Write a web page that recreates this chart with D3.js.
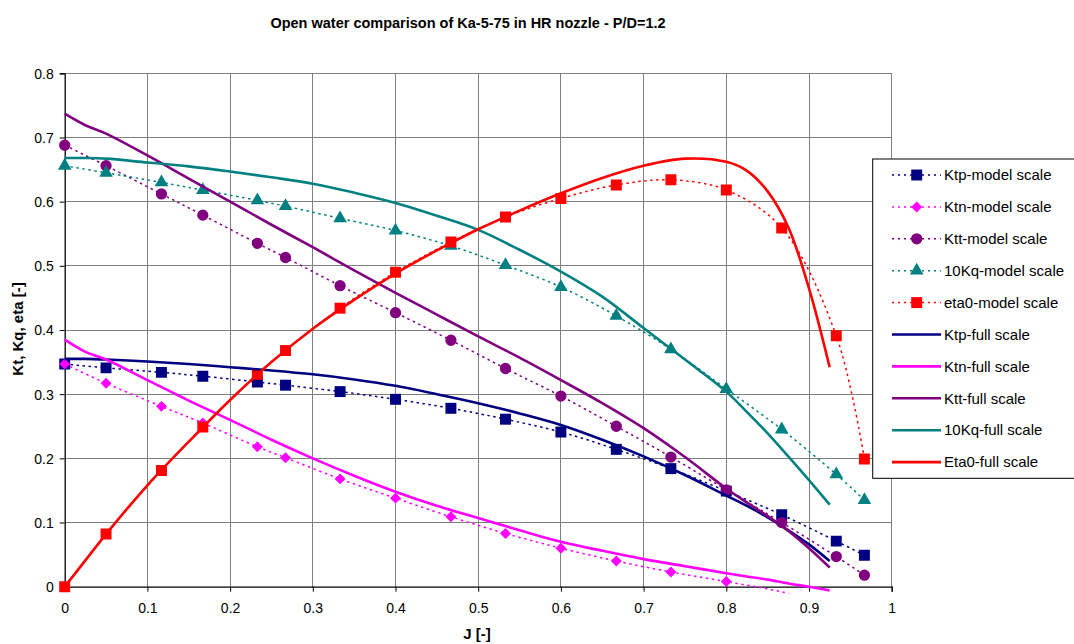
<!DOCTYPE html>
<html>
<head>
<meta charset="utf-8">
<script src="https://cdn.jsdelivr.net/npm/d3@7"></script>
<style>
  html, body { margin: 0; padding: 0; background: #fff; }
  svg { display: block; font-family: Arial, "Liberation Sans", sans-serif; }
</style>
</head>
<body>
<svg id="chart" width="1074" height="644"></svg>
<script>
// Advance coefficients J of the model-scale test points
const jModel = [0, 0.05, 0.117, 0.167, 0.233, 0.267, 0.333, 0.4, 0.467, 0.533, 0.6, 0.667, 0.733, 0.8, 0.867, 0.933, 0.967];
const ktpModel = [0.347, 0.341, 0.334, 0.328, 0.319, 0.314, 0.304, 0.292, 0.278, 0.261, 0.241, 0.214, 0.184, 0.149, 0.112, 0.071, 0.049];
const ktnModel = [0.347, 0.317, 0.281, 0.255, 0.218, 0.201, 0.168, 0.138, 0.109, 0.083, 0.060, 0.040, 0.023, 0.008, -0.008, -0.030];
const kttModel = [0.688, 0.656, 0.612, 0.579, 0.535, 0.513, 0.469, 0.427, 0.384, 0.340, 0.297, 0.250, 0.202, 0.151, 0.100, 0.047, 0.018];
const kqModel  = [0.656, 0.645, 0.630, 0.618, 0.602, 0.593, 0.574, 0.555, 0.531, 0.501, 0.467, 0.422, 0.370, 0.308, 0.245, 0.175, 0.135];
const etaModel = [0, 0.082, 0.181, 0.249, 0.331, 0.368, 0.434, 0.490, 0.537, 0.576, 0.605, 0.626, 0.634, 0.618, 0.559, 0.391, 0.199];

// Full-scale prediction curves
const jFull = [0, 0.025, 0.05, 0.1, 0.15, 0.2, 0.25, 0.3, 0.35, 0.4, 0.45, 0.5, 0.55, 0.6, 0.65, 0.7, 0.75, 0.8, 0.825, 0.85, 0.875, 0.9, 0.925];
const ktpFull = [0.355, 0.355, 0.354, 0.351, 0.347, 0.342, 0.337, 0.331, 0.323, 0.313, 0.300, 0.286, 0.270, 0.252, 0.229, 0.203, 0.174, 0.142, 0.126, 0.108, 0.088, 0.066, 0.040];
const ktnFull = [0.385, 0.366, 0.354, 0.322, 0.290, 0.260, 0.229, 0.200, 0.173, 0.148, 0.126, 0.107, 0.088, 0.070, 0.056, 0.043, 0.032, 0.021, 0.016, 0.011, 0.005, 0.000, -0.006];
const kttFull = [0.737, 0.719, 0.706, 0.672, 0.636, 0.600, 0.564, 0.529, 0.493, 0.458, 0.424, 0.390, 0.357, 0.322, 0.286, 0.247, 0.202, 0.153, 0.131, 0.110, 0.087, 0.060, 0.030];
const kqFull  = [0.668, 0.668, 0.667, 0.661, 0.655, 0.647, 0.638, 0.628, 0.614, 0.598, 0.578, 0.556, 0.525, 0.491, 0.452, 0.403, 0.354, 0.304, 0.272, 0.239, 0.203, 0.166, 0.128];
const etaFull = [0, 0.041, 0.082, 0.158, 0.226, 0.291, 0.350, 0.402, 0.447, 0.488, 0.524, 0.557, 0.586, 0.613, 0.637, 0.656, 0.667, 0.662, 0.648, 0.616, 0.560, 0.465, 0.342];

const xTicks = [0, 0.1, 0.2, 0.3, 0.4, 0.5, 0.6, 0.7, 0.8, 0.9, 1];
const yTicks = [0, 0.1, 0.2, 0.3, 0.4, 0.5, 0.6, 0.7, 0.8];

const titleText = "Open water comparison of Ka-5-75 in HR nozzle - P/D=1.2";
const xTitle = "J [-]";
const yTitle = "Kt, Kq, eta [-]";

const modelSeries = [
  { name: "Ktp-model scale", values: ktpModel, color: "#000080", symbol: "square" },
  { name: "Ktn-model scale", values: ktnModel, color: "#FF00FF", symbol: "diamond" },
  { name: "Ktt-model scale", values: kttModel, color: "#800080", symbol: "circle" },
  { name: "10Kq-model scale", values: kqModel, color: "#008080", symbol: "triangle" },
  { name: "eta0-model scale", values: etaModel, color: "#FF0000", symbol: "square" }
];
const fullSeries = [
  { name: "Ktp-full scale", values: ktpFull, color: "#000080" },
  { name: "Ktn-full scale", values: ktnFull, color: "#FF00FF" },
  { name: "Ktt-full scale", values: kttFull, color: "#800080" },
  { name: "10Kq-full scale", values: kqFull, color: "#008080" },
  { name: "Eta0-full scale", values: etaFull, color: "#FF0000" }
];

const svg = d3.select("#chart");
const W = 1074, H = 644;
const plot = { left: 64.7, right: 891.7, top: 73.3, bottom: 586.7 };

svg.append("rect").attr("width", W).attr("height", H).attr("fill", "#fff");

const x = d3.scaleLinear().domain([0, 1]).range([plot.left, plot.right]);
const y = d3.scaleLinear().domain([0, 0.8]).range([plot.bottom, plot.top]);

// grid
const grid = svg.append("g").attr("stroke", "#808080").attr("stroke-width", 1).attr("shape-rendering", "crispEdges");
grid.selectAll("line.gx").data(xTicks.slice(1)).join("line")
  .attr("x1", d => x(d)).attr("x2", d => x(d)).attr("y1", plot.top).attr("y2", plot.bottom);
grid.selectAll("line.gy").data(yTicks.slice(1)).join("line")
  .attr("y1", d => y(d)).attr("y2", d => y(d)).attr("x1", plot.left).attr("x2", plot.right);

// axes
const xAxis = d3.axisBottom(x).tickValues(xTicks).tickSize(5).tickFormat(d3.format("~g"));
const yAxis = d3.axisLeft(y).tickValues(yTicks).tickSize(5).tickFormat(d3.format("~g"));
const gx = svg.append("g").attr("transform", `translate(0,${plot.bottom})`).call(xAxis);
const gy = svg.append("g").attr("transform", `translate(${plot.left},0)`).call(yAxis);
[gx, gy].forEach(g => {
  g.select(".domain").attr("stroke", "#000").attr("stroke-width", 1.3);
  g.selectAll(".tick line").attr("stroke", "#000");
  g.selectAll(".tick text").attr("fill", "#000").attr("font-size", 14)
    .attr("font-family", "Arial, 'Liberation Sans', sans-serif");
});
gx.selectAll(".tick text").attr("dy", null).attr("y", 26);
gy.selectAll(".tick text").attr("x", -11).attr("dy", "0.35em");

// titles
svg.append("text").attr("x", 468).attr("y", 28).attr("text-anchor", "middle")
  .attr("font-weight", "bold").attr("font-size", 14.5).text(titleText);
svg.append("text").attr("x", 477).attr("y", 639).attr("text-anchor", "middle")
  .attr("font-weight", "bold").attr("font-size", 15).text(xTitle);
svg.append("text").attr("transform", `translate(22.5,329) rotate(-90)`)
  .attr("text-anchor", "middle").attr("font-weight", "bold").attr("font-size", 15).text(yTitle);

// clip so curves dipping under zero stop just below the axis
svg.append("clipPath").attr("id", "plotClip").append("rect")
  .attr("x", plot.left - 10).attr("y", plot.top - 10)
  .attr("width", plot.right - plot.left + 20).attr("height", plot.bottom - plot.top + 16.5);

const symbols = {
  square: d3.symbol().type(d3.symbolSquare).size(120),
  diamond: d3.symbol().type(d3.symbolSquare).size(60),
  circle: d3.symbol().type(d3.symbolCircle).size(100),
  triangle: d3.symbol().type(d3.symbolTriangle).size(80)
};
const symRotate = s => (s === "diamond" ? " rotate(45)" : "");

const lineGen = d3.line().x(d => x(d[0])).y(d => y(d[1])).curve(d3.curveCatmullRom.alpha(0.5));
const layer = svg.append("g").attr("clip-path", "url(#plotClip)");

// model-scale series: dotted lines with markers
modelSeries.forEach(s => {
  const pts = s.values.map((v, i) => [jModel[i], v]);
  layer.append("path").attr("d", lineGen(pts)).attr("fill", "none")
    .attr("stroke", s.color).attr("stroke-width", 1.5).attr("stroke-dasharray", "2.5,3.5");
  layer.selectAll(null).data(pts.filter(p => p[1] >= 0)).join("path")
    .attr("transform", p => `translate(${x(p[0])},${y(p[1])})${symRotate(s.symbol)}`)
    .attr("d", symbols[s.symbol]).attr("fill", s.color);
});

// full-scale predictions: solid lines
fullSeries.forEach(s => {
  const pts = s.values.map((v, i) => [jFull[i], v]);
  layer.append("path").attr("d", lineGen(pts)).attr("fill", "none")
    .attr("stroke", s.color).attr("stroke-width", 2.6).attr("stroke-linejoin", "round");
});

// legend
const lg = svg.append("g");
lg.append("rect").attr("x", 872.7).attr("y", 159).attr("width", 260).attr("height", 319.3)
  .attr("fill", "#fff").attr("stroke", "#000").attr("stroke-width", 1);
const rowY = i => 175 + i * 31.9;
modelSeries.concat(fullSeries).forEach((s, i) => {
  const yy = rowY(i);
  const line = lg.append("line").attr("x1", 892).attr("x2", 941).attr("y1", yy).attr("y2", yy)
    .attr("stroke", s.color);
  if (s.symbol) {
    line.attr("stroke-width", 1.5).attr("stroke-dasharray", "2,4");
    lg.append("path").attr("transform", `translate(916.7,${yy})${symRotate(s.symbol)}`)
      .attr("d", symbols[s.symbol]).attr("fill", s.color);
  } else {
    line.attr("stroke-width", 2.6);
  }
  lg.append("text").attr("x", 944).attr("y", yy).attr("dy", "0.35em")
    .attr("font-size", 15).attr("fill", "#000").text(s.name);
});
</script>
</body>
</html>
